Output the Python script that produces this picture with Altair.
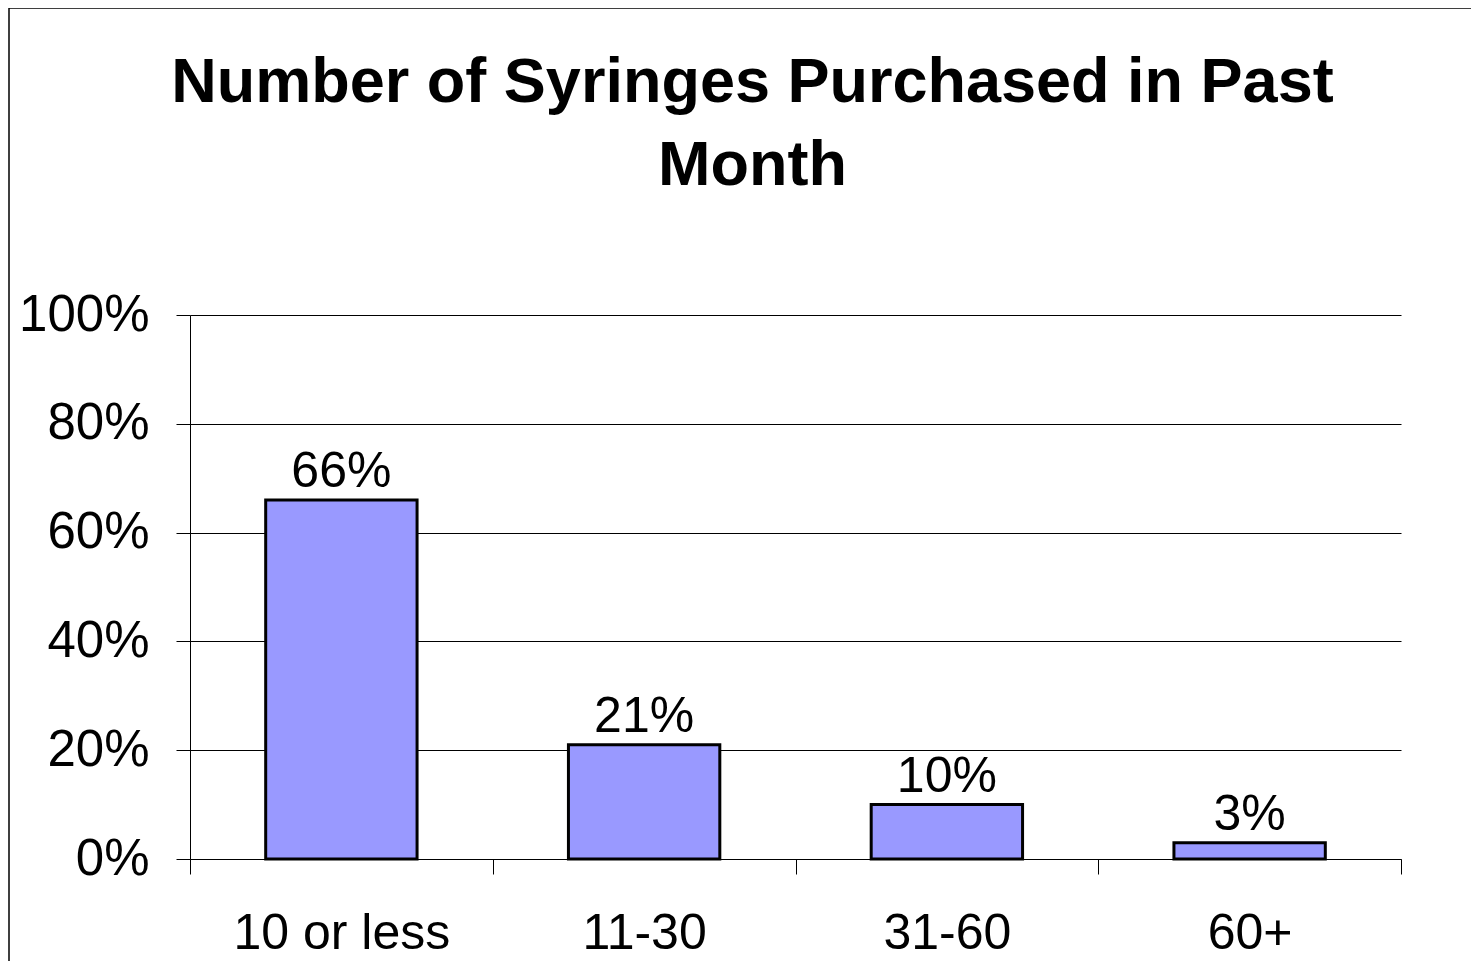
import altair as alt
import pandas as pd

categories = ["10 or less", "11-30", "31-60", "60+"]
percents = [66, 21, 10, 3]
y_ticks = [0, 20, 40, 60, 80, 100]
title_lines = ["Number of Syringes Purchased in Past", "Month"]

df = pd.DataFrame({
    "cat": categories,
    "pct": percents,
    "label": [f"{p}%" for p in percents],
})

FONT = "Liberation Sans"
W, H = 1211, 544

x = alt.X(
    "cat:N", sort=categories, title=None,
    scale=alt.Scale(paddingInner=0, paddingOuter=0),
    axis=alt.Axis(
        labelAngle=0, labelFont=FONT, labelFontSize=50, labelColor="black",
        labelLimit=0,
        tickBand="extent", tickSize=15, tickColor="black", tickWidth=1,
        domainColor="black", domainWidth=1, labelPadding=34, grid=False,
    ),
)
y = alt.Y(
    "pct:Q", title=None, scale=alt.Scale(domain=[0, 100]),
    axis=alt.Axis(
        values=y_ticks, labelExpr="datum.value + '%'",
        labelFont=FONT, labelFontSize=51, labelColor="black", labelPadding=27,
        tickSize=14, tickColor="black", tickWidth=1,
        domainColor="black", domainWidth=1,
        grid=True, gridColor="black", gridWidth=1,
    ),
)

bars = alt.Chart(df).mark_bar(
    color="#9999FF", stroke="black", strokeWidth=3,
    width=alt.RelativeBandSize(0.5),
).encode(x=x, y=y)

labels = alt.Chart(df).mark_text(
    baseline="alphabetic", dy=-13, fontSize=50, font=FONT, color="black"
).encode(x=alt.X("cat:N", sort=categories), y=alt.Y("pct:Q"), text="label:N")

frame = alt.Chart(pd.DataFrame({"a": [0]})).mark_rect(
    fillOpacity=0, stroke="black", strokeWidth=1.5
).encode(
    x=alt.value(-181), x2=alt.value(W + 300),
    y=alt.value(-307), y2=alt.value(H + 300),
)

chart = alt.layer(bars, labels, frame).properties(
    width=W, height=H,
    title=alt.TitleParams(
        text=title_lines, font=FONT, fontSize=63, fontWeight="bold",
        color="black", anchor="middle", dx=-43, offset=-191, lineHeight=83,
    ),
    autosize=alt.AutoSizeParams(type="none"),
    padding={"left": 182, "top": 307, "right": 70, "bottom": 102},
).configure_view(stroke=None)

chart.save("out.html", embed_options={"renderer": "svg", "actions": False})
